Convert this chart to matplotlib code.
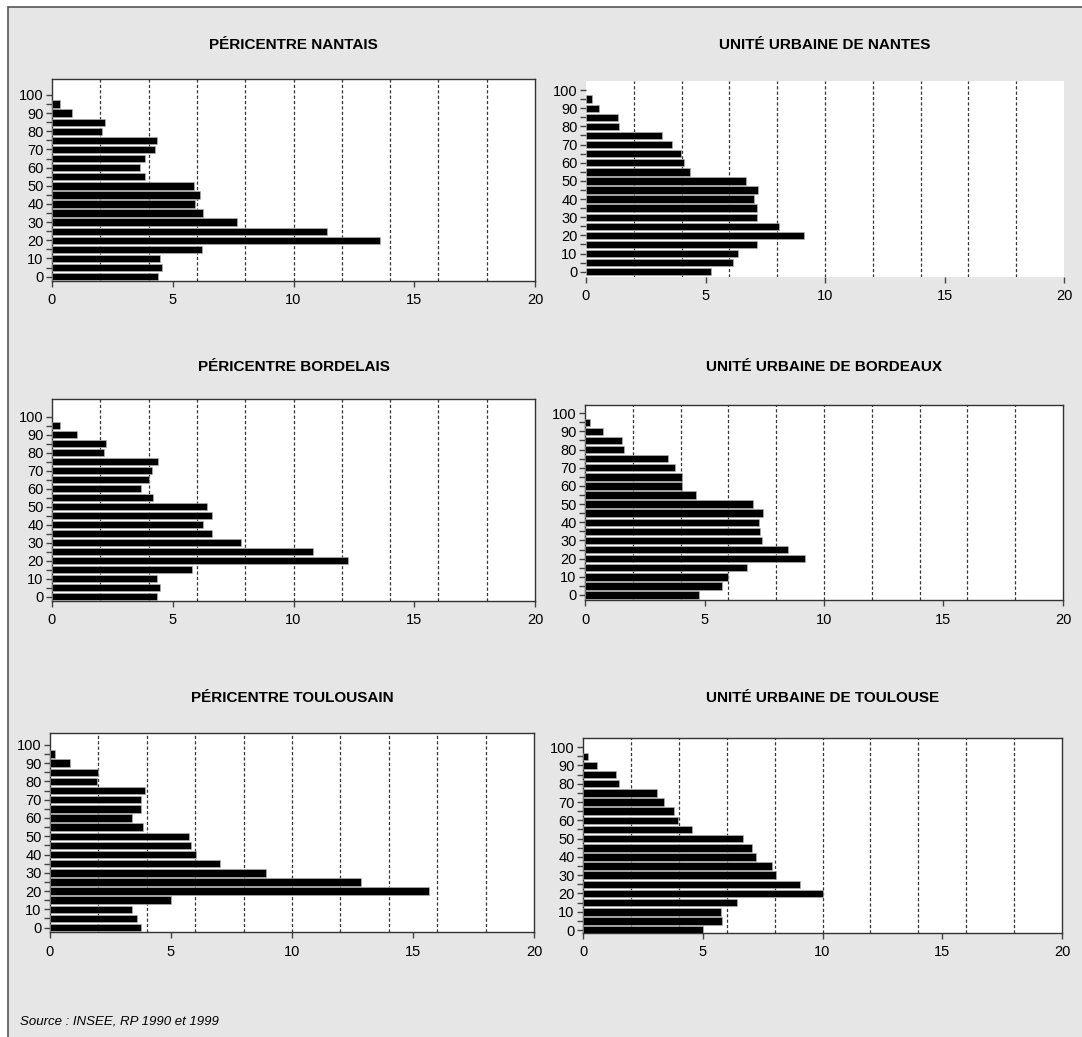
import numpy as np
import matplotlib
matplotlib.use("Agg")
import matplotlib.pyplot as plt
from matplotlib.patches import Rectangle

# Tranches d'âge (0-4, 5-9, ..., 95-99)
ages = np.arange(0, 100, 5)

titres = ["PÉRICENTRE NANTAIS", "UNITÉ URBAINE DE NANTES",
          "PÉRICENTRE BORDELAIS", "UNITÉ URBAINE DE BORDEAUX",
          "PÉRICENTRE TOULOUSAIN", "UNITÉ URBAINE DE TOULOUSE"]

# Part de chaque tranche d'âge (%), de 0-4 ans à 95-99 ans
pericentre_nantais = [4.38, 4.56, 4.46, 6.21, 13.57, 11.39, 7.67, 6.25, 5.94, 6.12,
                      5.88, 3.86, 3.66, 3.86, 4.27, 4.33, 2.07, 2.20, 0.84, 0.33]
uu_nantes = [5.22, 6.13, 6.37, 7.14, 9.13, 8.07, 7.14, 7.14, 7.01, 7.20,
             6.69, 4.34, 4.11, 3.96, 3.61, 3.18, 1.39, 1.34, 0.56, 0.25]
pericentre_bordelais = [4.34, 4.47, 4.34, 5.79, 12.25, 10.79, 7.82, 6.63, 6.26, 6.63,
                        6.40, 4.20, 3.68, 4.03, 4.14, 4.39, 2.17, 2.22, 1.03, 0.34]
uu_bordeaux = [4.78, 5.73, 5.97, 6.76, 9.20, 8.49, 7.42, 7.32, 7.27, 7.46,
               7.03, 4.64, 4.06, 4.06, 3.75, 3.46, 1.63, 1.53, 0.74, 0.21]
pericentre_toulousain = [3.75, 3.60, 3.37, 4.98, 15.65, 12.87, 8.91, 7.04, 6.05, 5.82,
                         5.76, 3.85, 3.37, 3.74, 3.74, 3.93, 1.95, 2.00, 0.83, 0.21]
uu_toulouse = [5.02, 5.81, 5.76, 6.41, 10.03, 9.05, 8.07, 7.89, 7.24, 7.05,
               6.68, 4.55, 3.96, 3.81, 3.37, 3.10, 1.49, 1.39, 0.60, 0.22]

series = [pericentre_nantais, uu_nantes, pericentre_bordelais,
          uu_bordeaux, pericentre_toulousain, uu_toulouse]

W, H = 1082, 1037
# position des axes en pixels : gauche, droite, haut, bas
boites = [(52, 535, 79, 281), (586, 1064, 81, 277),
          (52, 535, 399, 601), (585, 1063, 405, 600),
          (50, 534, 733, 932), (583, 1062, 738, 933)]
ylims = [(-2.4, 108.8), (-2.9, 105), (-2.4, 109.9),
         (-2.75, 104.5), (-2.4, 106.5), (-1.6, 105)]
titre_y = [45, 45, 367, 367, 698, 698]

plt.rcParams["font.family"] = ["Liberation Sans", "DejaVu Sans"]

fig = plt.figure(figsize=(W / 100, H / 100), dpi=100, facecolor="white")
fond = Rectangle((8 / W, -0.05), 1.1, 1 - 7 / H + 0.05,
                 transform=fig.transFigure, facecolor="#e6e6e6",
                 edgecolor="#555555", linewidth=1.2, zorder=-10)
fig.patches.append(fond)

for i, (vals, titre) in enumerate(zip(series, titres)):
    g, d, h, b = boites[i]
    ax = fig.add_axes([g / W, 1 - b / H, (d - g) / W, (b - h) / H])
    ax.set_facecolor("white")
    ax.barh(ages, vals, height=4.1, color="black", edgecolor="#bbbbbb",
            linewidth=0.4, zorder=3)
    ax.set_xlim(0, 20)
    ax.set_ylim(*ylims[i])
    for gx in range(2, 20, 2):
        ax.axvline(gx, color="#333333", linestyle=(0, (2.5, 1.8)), linewidth=0.9, zorder=1)
    ax.set_xticks([0, 5, 10, 15, 20])
    ax.set_yticks(np.arange(0, 101, 10))
    ax.set_yticks(np.arange(5, 100, 10), minor=True)
    ax.tick_params(axis="both", which="major", direction="out", length=4,
                   width=1, color="#444444", labelsize=10.5, pad=2)
    ax.tick_params(axis="y", which="minor", direction="out", length=4,
                   width=1, color="#444444")
    ax.tick_params(axis="x", pad=5)
    for s in ax.spines.values():
        s.set_color("#333333")
        s.set_linewidth(1)
    if i == 1:
        for s in ax.spines.values():
            s.set_visible(False)
    fig.text((g + d) / 2 / W, 1 - titre_y[i] / H, titre, ha="center", va="center",
             fontsize=11, fontweight="bold")

fig.text(20 / W, 1 - 1021 / H, "Source : INSEE, RP 1990 et 1999",
         fontsize=9.5, style="italic", ha="left", va="center")

fig.savefig("out.png", dpi=100, facecolor=fig.get_facecolor())
